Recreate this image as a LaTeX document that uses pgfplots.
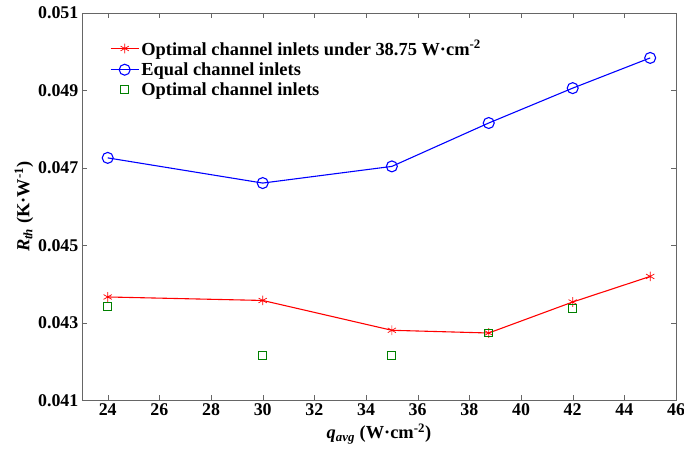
\documentclass[border=0pt]{standalone}
\usepackage{fontspec}
\setmainfont{Liberation Serif}
\usepackage{pgfplots}
\pgfplotsset{compat=1.18}
\definecolor{mgreen}{rgb}{0,0.5,0}
\begin{document}
\begin{tikzpicture}
\begin{axis}[
  scale only axis, width=595bp, height=388bp,
  xmin=23, xmax=46, ymin=0.041, ymax=0.051,
  xtick={24,26,28,30,32,34,36,38,40,42,44,46},
  ytick={0.041,0.043,0.045,0.047,0.049,0.051},
  scaled y ticks=false,
  /pgf/number format/assume math mode=true,
  xticklabel={\bfseries\pgfmathprintnumber{\tick}},
  yticklabel={\bfseries\pgfmathprintnumber[fixed,fixed zerofill,precision=3]{\tick}},
  tick label style={font=\fontsize{18}{22}\selectfont\bfseries},
  tick align=inside, tick pos=both, major tick length=5bp,
  axis line style={black!60}, tick style={black!60},
  xlabel={\bfseries\itshape q\textsubscript{avg}\upshape\ (W·cm\textsuperscript{-2})},
  ylabel={\bfseries\itshape R\textsubscript{th}\upshape\ (K·W\textsuperscript{-1})},
  label style={font=\fontsize{18.5}{22}\selectfont\bfseries},
  xlabel style={yshift=-1bp},
  ylabel style={yshift=-2bp},
  legend style={draw=none, fill=none, at={(0.047,0.935)}, anchor=north west,
    font=\fontsize{18.5}{22}\selectfont\bfseries, row sep=2bp, inner sep=0pt},
  legend cell align=left,
  legend image code/.code={\draw[mark repeat=2,mark phase=2] plot coordinates {(0cm,0cm)(0.5cm,0cm)(1cm,0cm)};},
]
\addplot[red, line width=1.1pt, mark=asterisk, mark size=4.8bp, mark options={line width=0.7pt}]
 coordinates {(24,0.04367)(30,0.04358)(35,0.04281)(38.75,0.04274)(42,0.04354)(45,0.04420)};
\addlegendentry{Optimal channel inlets under 38.75 W·cm\textsuperscript{-2}}
\addplot[blue, line width=1.1pt, mark=o, mark size=5.5bp, mark options={line width=1.1pt}]
 coordinates {(24,0.04726)(30,0.04661)(35,0.04704)(38.75,0.04816)(42,0.04906)(45,0.04984)};
\addlegendentry{Equal channel inlets}
\addplot[mgreen, only marks, mark=square, mark size=4bp, mark options={line width=1pt, fill=none}]
 coordinates {(24,0.04343)(30,0.04216)(35,0.04215)(38.75,0.04274)(42,0.04336)};
\addlegendentry{Optimal channel inlets}
\end{axis}
\pgfresetboundingbox
\path ([shift={(-82bp,-53bp)}]current axis.south west) rectangle ([shift={(8bp,13bp)}]current axis.north east);
\end{tikzpicture}
\end{document}
